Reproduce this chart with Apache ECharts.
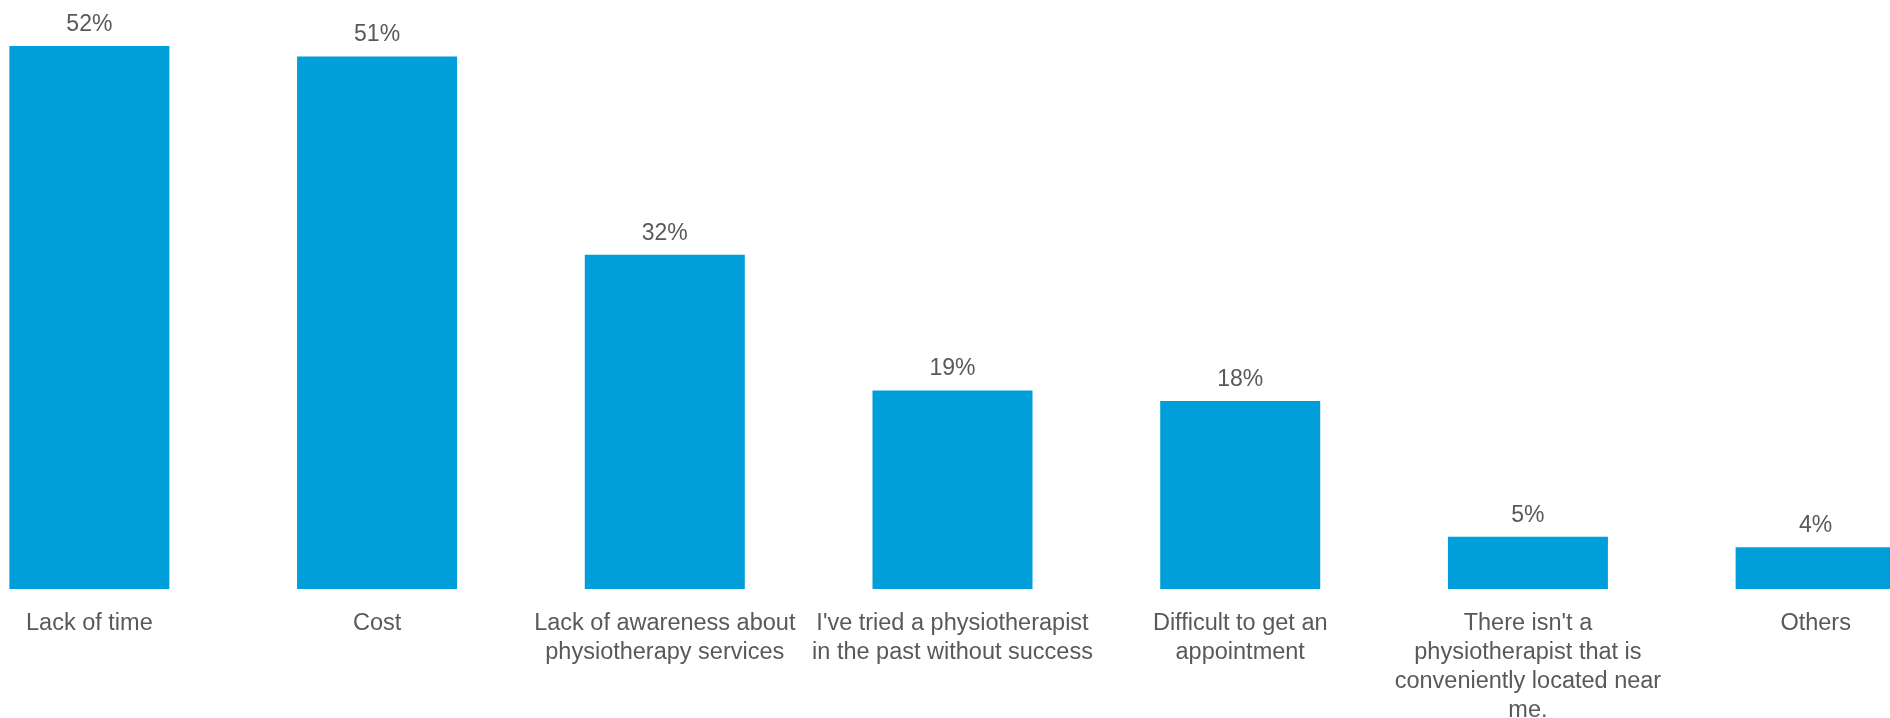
<!DOCTYPE html>
<html>
<head>
<meta charset="utf-8">
<title>Reasons for not seeing a physiotherapist</title>
<script src="https://cdn.jsdelivr.net/npm/echarts@6/dist/echarts.min.js"></script>
<style>
  html, body { margin: 0; padding: 0; background: #ffffff; }
  #chart { width: 1890px; height: 718px; }
</style>
</head>
<body>
<div id="chart"></div>
<script>
// Reasons given, one bar each
const categories = [
  'Lack of time',
  'Cost',
  'Lack of awareness about\nphysiotherapy services',
  "I've tried a physiotherapist\nin the past without success",
  'Difficult to get an\nappointment',
  "There isn't a\nphysiotherapist that is\nconveniently located near\nme.",
  'Others'
];
// Share of respondents (%)
const shares = [52, 51, 32, 19, 18, 5, 4];

const textColor = '#595959';
const fontFamily = '"Liberation Sans", Arial, Helvetica, sans-serif';

const chart = echarts.init(document.getElementById('chart'), null, { renderer: 'canvas' });
chart.setOption({
  animation: false,
  backgroundColor: '#ffffff',
  // plot area runs past the right edge, so the last bar is cut by the canvas
  grid: {
    left: -54.5,
    width: 2014,
    top: 46,
    bottom: 129,
    containLabel: false,
    outerBoundsMode: 'none'
  },
  xAxis: {
    type: 'category',
    data: categories,
    axisLine: { show: false },
    axisTick: { show: false },
    axisLabel: {
      interval: 0,
      hideOverlap: false,
      margin: 20,
      color: textColor,
      fontFamily: fontFamily,
      fontSize: 23.5,
      lineHeight: 29,
      align: 'center'
    }
  },
  yAxis: {
    type: 'value',
    min: 0,
    max: 52,
    show: false,
    splitLine: { show: false }
  },
  series: [{
    type: 'bar',
    data: shares,
    barWidth: 160,
    itemStyle: { color: '#009fd9' },
    label: {
      show: true,
      position: 'top',
      distance: 10,
      formatter: p => p.value + '%',
      color: textColor,
      fontFamily: fontFamily,
      fontSize: 23
    }
  }]
});
</script>
</body>
</html>
